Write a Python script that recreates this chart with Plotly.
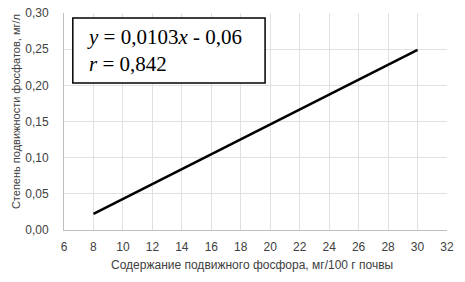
import plotly.graph_objects as go

x_vals = [8, 30]
y_vals = [0.0224, 0.249]
x_ticks = list(range(6, 33, 2))
y_ticks = [0, 0.05, 0.10, 0.15, 0.20, 0.25, 0.30]
y_tick_labels = ["0,00", "0,05", "0,10", "0,15", "0,20", "0,25", "0,30"]
x_title = "Содержание подвижного фосфора, мг/100 г почвы"
y_title = "Степень подвижности фосфатов, мг/л"

fig = go.Figure()
fig.add_trace(go.Scatter(x=x_vals, y=y_vals, mode="lines",
                         line=dict(color="black", width=2.5), showlegend=False))

fig.update_layout(
    width=465, height=282,
    margin=dict(l=64, r=18, t=13, b=52),
    plot_bgcolor="white", paper_bgcolor="white",
    font=dict(family="Liberation Sans, Arial, sans-serif", size=12, color="#404040"),
)
fig.update_xaxes(range=[6, 32], tickvals=x_ticks, ticktext=[str(t) for t in x_ticks],
                 showgrid=True, gridcolor="#e0e0e0", gridwidth=1,
                 showline=True, linecolor="#bfbfbf", linewidth=1, ticks="",
                 zeroline=False, tickfont=dict(size=12), automargin=False,
                 ticklabelstandoff=6)
fig.update_yaxes(range=[0, 0.30], tickvals=y_ticks, ticktext=y_tick_labels,
                 showgrid=True, gridcolor="#e0e0e0", gridwidth=1,
                 showline=True, linecolor="#bfbfbf", linewidth=1, ticks="",
                 zeroline=False, tickfont=dict(size=12), automargin=False,
                 ticklabelstandoff=12)

fig.add_annotation(xref="paper", yref="paper", x=0.491, y=-0.161, xanchor="center", yanchor="middle",
                   text=x_title, showarrow=False, font=dict(size=12, color="#404040"))
fig.add_annotation(xref="paper", yref="paper", x=-0.125, y=0.544, xanchor="center", yanchor="middle",
                   text=y_title, showarrow=False, textangle=-90, font=dict(size=11, color="#404040"))

fig.add_shape(type="rect", xref="paper", yref="paper", x0=0.023, x1=0.525, y0=0.677, y1=0.977,
              line=dict(color="black", width=1.5), fillcolor="white", layer="above")
fig.add_annotation(xref="paper", yref="paper", x=0.055, y=0.827, xanchor="left", yanchor="middle",
                   text="<i>y</i> = 0,0103<i>x</i> - 0,06<br><i>r</i> = 0,842", showarrow=False, align="left",
                   font=dict(family="Liberation Serif, Times New Roman, serif", size=21, color="black"))

fig.write_html("out.html", config={"displayModeBar": False},
               post_script="document.body.style.margin='0';")
